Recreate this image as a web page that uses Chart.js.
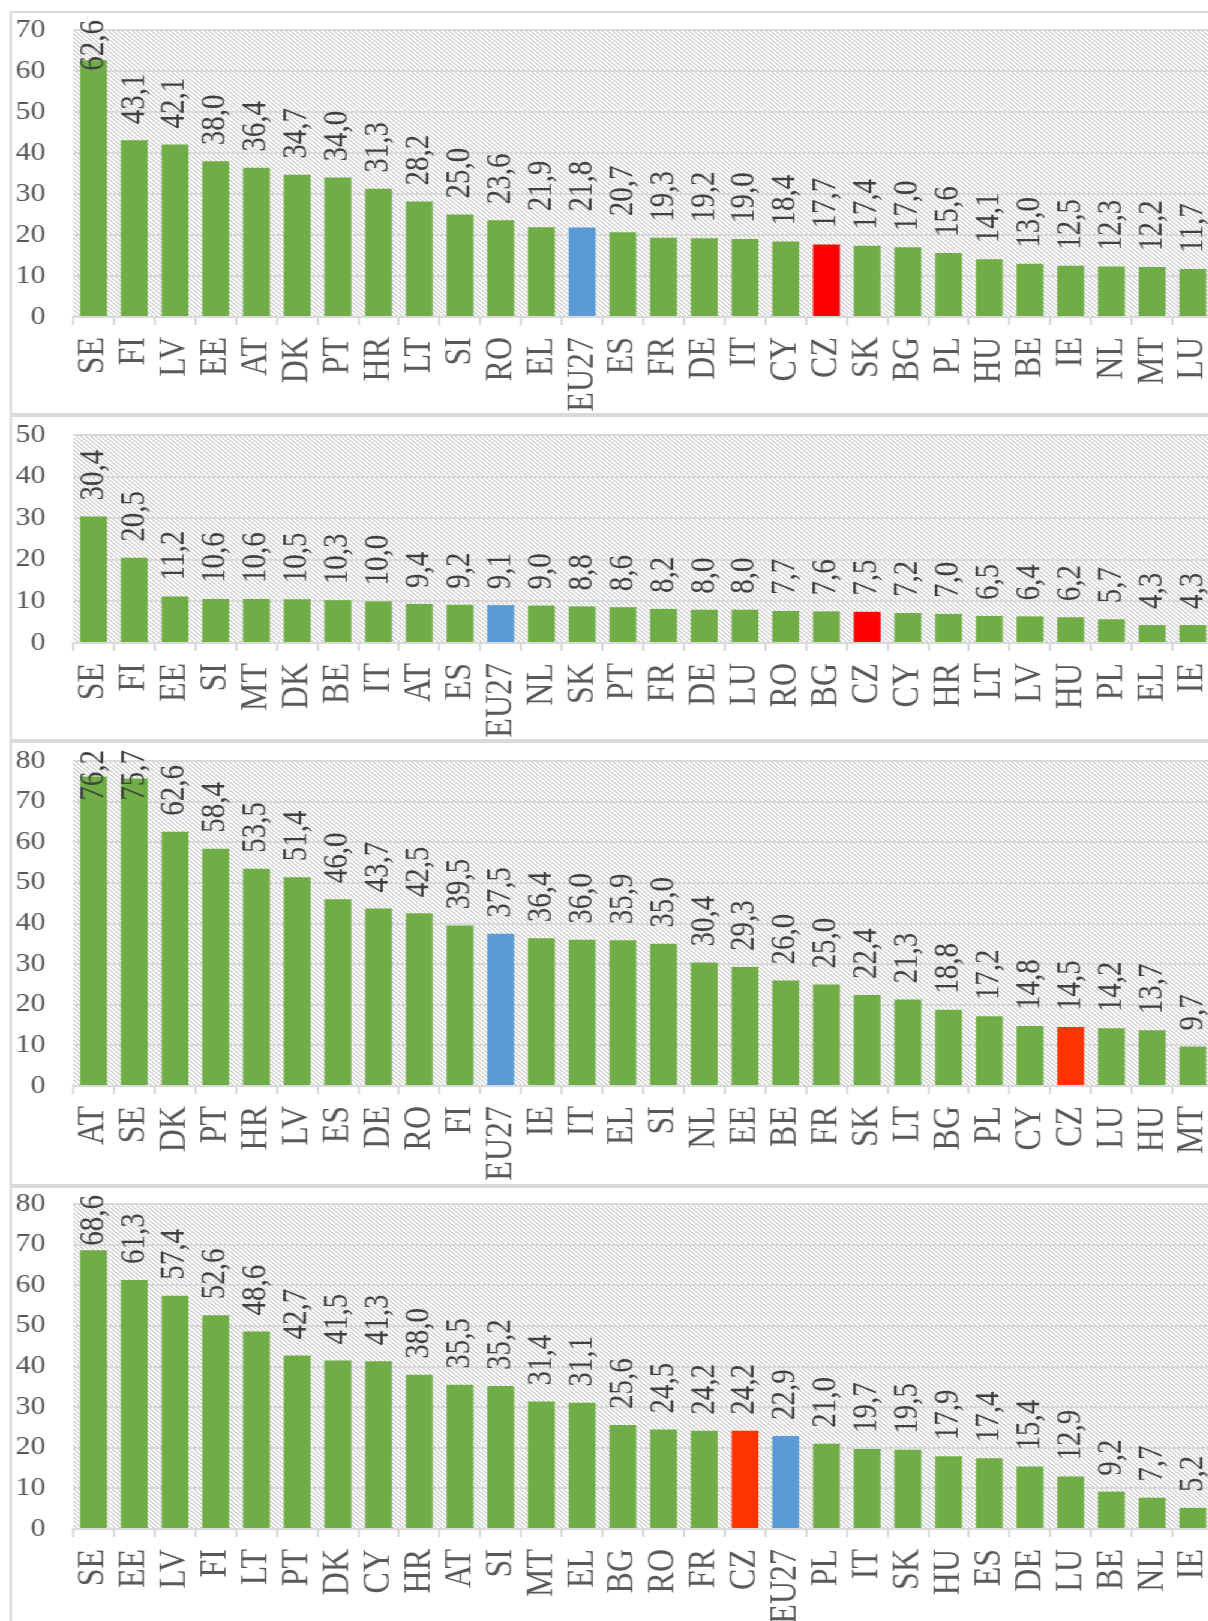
<!DOCTYPE html>
<html lang="en">
<head>
    <meta charset="UTF-8">
    <title>Country rankings</title>
    <script src="https://cdn.jsdelivr.net/npm/chart.js"></script>
    <style>
        html, body {
            margin: 0;
            background: #fff;
            overflow: hidden;
        }
        /* the reference is stretched sideways, so the whole page is too */
        #page {
            position: absolute;
            left: 0;
            top: 0;
            width: 1030px;
            height: 1621px;
            transform: scaleX(1.2);
            transform-origin: 0 0;
        }
        .panel {
            position: absolute;
            left: 8px;
            width: 1100px;
            border: 2px solid #d9d9d9;
            box-sizing: border-box;
        }
        canvas {
            position: absolute;
            left: 0;
        }
    </style>
</head>
<body>
<div id="page">
    <div class="panel" style="top:11px;height:404px"></div>
    <div class="panel" style="top:415px;height:326px"></div>
    <div class="panel" style="top:741px;height:445px"></div>
    <div class="panel" style="top:1186px;height:470px"></div>

    <canvas id="chart1" width="1030" height="400" style="top:13px"></canvas>
    <canvas id="chart2" width="1030" height="322" style="top:417px"></canvas>
    <canvas id="chart3" width="1030" height="441" style="top:743px"></canvas>
    <canvas id="chart4" width="1030" height="433" style="top:1188px"></canvas>
</div>

<script>
    // Panel 1
    const labels1 = ['SE','FI','LV','EE','AT','DK','PT','HR','LT','SI','RO','EL','EU27','ES','FR','DE','IT','CY','CZ','SK','BG','PL','HU','BE','IE','NL','MT','LU'];
    const values1 = [62.6,43.1,42.1,38.0,36.4,34.7,34.0,31.3,28.2,25.0,23.6,21.9,21.8,20.7,19.3,19.2,19.0,18.4,17.7,17.4,17.0,15.6,14.1,13.0,12.5,12.3,12.2,11.7];

    // Panel 2
    const labels2 = ['SE','FI','EE','SI','MT','DK','BE','IT','AT','ES','EU27','NL','SK','PT','FR','DE','LU','RO','BG','CZ','CY','HR','LT','LV','HU','PL','EL','IE'];
    const values2 = [30.4,20.5,11.2,10.6,10.6,10.5,10.3,10.0,9.4,9.2,9.1,9.0,8.8,8.6,8.2,8.0,8.0,7.7,7.6,7.5,7.2,7.0,6.5,6.4,6.2,5.7,4.3,4.3];

    // Panel 3
    const labels3 = ['AT','SE','DK','PT','HR','LV','ES','DE','RO','FI','EU27','IE','IT','EL','SI','NL','EE','BE','FR','SK','LT','BG','PL','CY','CZ','LU','HU','MT'];
    const values3 = [76.2,75.7,62.6,58.4,53.5,51.4,46.0,43.7,42.5,39.5,37.5,36.4,36.0,35.9,35.0,30.4,29.3,26.0,25.0,22.4,21.3,18.8,17.2,14.8,14.5,14.2,13.7,9.7];

    // Panel 4
    const labels4 = ['SE','EE','LV','FI','LT','PT','DK','CY','HR','AT','SI','MT','EL','BG','RO','FR','CZ','EU27','PL','IT','SK','HU','ES','DE','LU','BE','NL','IE'];
    const values4 = [68.6,61.3,57.4,52.6,48.6,42.7,41.5,41.3,38.0,35.5,35.2,31.4,31.1,25.6,24.5,24.2,24.2,22.9,21.0,19.7,19.5,17.9,17.4,15.4,12.9,9.2,7.7,5.2];

    const yMax = [70, 50, 80, 80];

    const GREEN = '#70ad47';
    const BLUE = '#5b9bd5';
    const FONT = 'Liberation Serif';

    // light downward diagonal hatch, like the Excel plot area fill
    const hatch = document.createElement('canvas');
    hatch.width = 4;
    hatch.height = 4;
    const hg = hatch.getContext('2d');
    for (let i = 0; i < 4; i++) {
        hg.fillStyle = '#c6c6c6';
        hg.fillRect(i, i, 1, 1);
        hg.fillStyle = '#e8e8e8';
        hg.fillRect((i + 1) % 4, i, 1, 1);
    }

    const panelPlugin = {
        id: 'panel',
        beforeDraw(chart) {
            const { ctx, chartArea: a } = chart;
            ctx.save();
            ctx.fillStyle = ctx.createPattern(hatch, 'repeat');
            ctx.fillRect(a.left, a.top, a.right - a.left, a.bottom - a.top);
            ctx.restore();
        },
        // value labels, rotated, above each bar
        afterDatasetsDraw(chart) {
            const ctx = chart.ctx;
            const values = chart.data.datasets[0].data;
            ctx.save();
            ctx.font = '29px "' + FONT + '"';
            ctx.fillStyle = '#404040';
            ctx.textAlign = 'left';
            ctx.textBaseline = 'middle';
            chart.getDatasetMeta(0).data.forEach((bar, i) => {
                const txt = values[i].toFixed(1).replace('.', ',');
                const w = ctx.measureText(txt).width;
                let y = bar.y - 16;
                if (y - w < 7) y = 7 + w;
                ctx.save();
                ctx.translate(bar.x, y);
                ctx.rotate(-Math.PI / 2);
                ctx.fillText(txt, 0, 0);
                ctx.restore();
            });
            ctx.restore();
        }
    };

    function makeChart(id, labels, values, max, red, topPad, axisHeight) {
        const colors = labels.map(l => l === 'EU27' ? BLUE : (l === 'CZ' ? red : GREEN));
        new Chart(document.getElementById(id), {
            type: 'bar',
            data: {
                labels: labels,
                datasets: [{
                    data: values,
                    backgroundColor: colors,
                    borderWidth: 0,
                    barPercentage: 0.66,
                    categoryPercentage: 1
                }]
            },
            options: {
                responsive: false,
                animation: false,
                layout: { padding: { top: topPad, right: 19, left: 0, bottom: 0 } },
                plugins: { legend: { display: false }, tooltip: { enabled: false } },
                scales: {
                    x: {
                        grid: { drawOnChartArea: false, drawTicks: true, tickLength: 8, color: '#d9d9d9', lineWidth: 2 },
                        border: { display: true, color: '#d9d9d9', width: 2 },
                        ticks: {
                            autoSkip: false,
                            minRotation: 90,
                            maxRotation: 90,
                            padding: 12,
                            color: '#595959',
                            font: { family: FONT, size: 32 }
                        },
                        afterFit: s => { s.height = axisHeight; s.paddingLeft = 0; s.paddingRight = 0; }
                    },
                    y: {
                        min: 0,
                        max: max,
                        grid: { color: '#d9d9d9', lineWidth: 2, drawTicks: false },
                        border: { display: false },
                        ticks: {
                            stepSize: 10,
                            padding: 23,
                            color: '#595959',
                            font: { family: FONT, size: 25 }
                        },
                        afterFit: s => { s.width = 61; s.paddingTop = 0; s.paddingBottom = 0; }
                    }
                }
            },
            plugins: [panelPlugin]
        });
    }

    makeChart('chart1', labels1, values1, yMax[0], '#ff0000', 17, 96);
    makeChart('chart2', labels2, values2, yMax[1], '#ff0000', 18, 96);
    makeChart('chart3', labels3, values3, yMax[2], '#ff3300', 18, 98);
    makeChart('chart4', labels4, values4, yMax[3], '#ff3300', 16, 92);
</script>
</body>
</html>
